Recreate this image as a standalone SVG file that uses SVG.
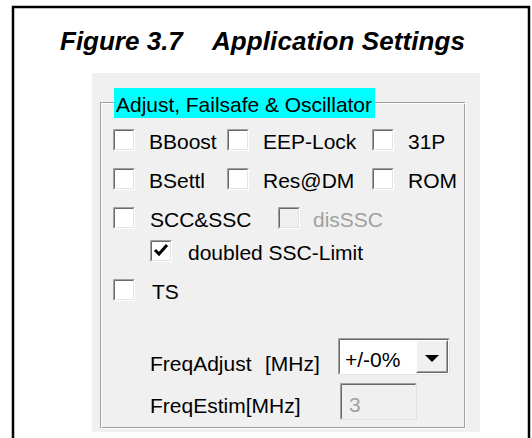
<svg xmlns="http://www.w3.org/2000/svg" width="532" height="438" viewBox="0 0 532 438">
<style>
.lbl{font-family:"Liberation Sans",Arial,sans-serif;font-size:21px;fill:#000}
.dis{fill:#a0a0a0}
.title{font-family:"Liberation Sans",Arial,sans-serif;font-size:26px;font-weight:bold;font-style:italic;fill:#000}
</style>
<defs>
<g id="cb">
<rect x="0" y="0" width="22" height="22" fill="#ffffff"/>
<path d="M0.5 21.5V0.5H21.5" fill="none" stroke="#a0a0a0"/>
<path d="M1.5 20.5V1.5H20.5" fill="none" stroke="#696969"/>
<path d="M1.5 21.5H21.5V1.5" fill="none" stroke="#ffffff"/>
<path d="M2.5 20.5H20.5V2.5" fill="none" stroke="#e3e3e3"/>
</g>
<g id="cbd">
<rect x="0" y="0" width="22" height="22" fill="#f0f0f0"/>
<path d="M0.5 21.5V0.5H21.5" fill="none" stroke="#a0a0a0"/>
<path d="M1.5 20.5V1.5H20.5" fill="none" stroke="#696969"/>
<path d="M1.5 21.5H21.5V1.5" fill="none" stroke="#ffffff"/>
<path d="M2.5 20.5H20.5V2.5" fill="none" stroke="#e3e3e3"/>
</g>
</defs>
<rect x="0" y="0" width="532" height="438" fill="#ffffff"/>
<path d="M13 438V7H529V438" fill="none" stroke="#000" stroke-width="2.5"/>
<text class="title" y="50"><tspan x="60">Figure 3.7</tspan><tspan x="212" textLength="253">Application Settings</tspan></text>
<rect x="92" y="73" width="388" height="359" fill="#f0f0f0"/>
<g id="groupbox">
<rect x="100.5" y="102.5" width="364" height="325" fill="none" stroke="#a0a0a0"/>
<rect x="101.5" y="103.5" width="364" height="325" fill="none" stroke="#ffffff" opacity="0.9"/>
<rect x="114" y="88" width="261" height="30" fill="#00ffff"/>
<text class="lbl" x="116" y="112" textLength="256">Adjust, Failsafe &amp; Oscillator</text>
</g>
<g id="bboost"><use href="#cb" x="113" y="129"/><text class="lbl" x="149" y="149">BBoost</text></g>
<g id="eeplock"><use href="#cb" x="227" y="129"/><text class="lbl" x="263" y="149">EEP-Lock</text></g>
<g id="p31"><use href="#cb" x="372" y="129"/><text class="lbl" x="408" y="149">31P</text></g>
<g id="bsettl"><use href="#cb" x="113" y="168"/><text class="lbl" x="149" y="188">BSettl</text></g>
<g id="resdm"><use href="#cb" x="227" y="168"/><text class="lbl" x="263" y="188">Res@DM</text></g>
<g id="rom"><use href="#cb" x="372" y="168"/><text class="lbl" x="408" y="188">ROM</text></g>
<g id="sccssc"><use href="#cb" x="113" y="207"/><text class="lbl" x="150" y="227">SCC&amp;SSC</text></g>
<g id="disssc"><use href="#cbd" x="278" y="207"/><text class="lbl dis" x="313" y="227">disSSC</text></g>
<g id="doubled"><use href="#cb" x="150" y="240"/><path d="M155 250l4 4 8-9" fill="none" stroke="#000" stroke-width="3"/><text class="lbl" x="188" y="260">doubled SSC-Limit</text></g>
<g id="ts"><use href="#cb" x="113" y="279"/><text class="lbl" x="152" y="299">TS</text></g>
<g id="freqadjust">
<text class="lbl" x="150" y="371">FreqAdjust</text>
<text class="lbl" x="265" y="371">[MHz]</text>
<rect x="338" y="338" width="112" height="37" fill="#ffffff"/>
<path d="M338.5 374.5V338.5H449.5" fill="none" stroke="#a0a0a0"/>
<path d="M339.5 373.5V339.5H448.5" fill="none" stroke="#696969"/>
<path d="M338.5 374.5H449.5V338.5" fill="none" stroke="#e3e3e3"/>
<text class="lbl" x="345" y="367">+/-0%</text>
<rect x="416" y="340" width="32" height="33" fill="#f0f0f0"/>
<path d="M416.5 372.5V340.5H447.5" fill="none" stroke="#ffffff"/>
<path d="M416.5 372.5H447.5V340.5" fill="none" stroke="#696969"/>
<path d="M417.5 371.5H446.5V341.5" fill="none" stroke="#a0a0a0"/>
<path d="M425 355h14l-7 7z" fill="#000"/>
</g>
<g id="freqestim">
<text class="lbl" x="150" y="413">FreqEstim[MHz]</text>
<rect x="340" y="383" width="77" height="37" fill="#f0f0f0"/>
<path d="M340.5 419.5V383.5H416.5" fill="none" stroke="#a0a0a0"/>
<path d="M341.5 418.5V384.5H415.5" fill="none" stroke="#696969"/>
<path d="M340.5 419.5H416.5V383.5" fill="none" stroke="#e3e3e3"/>
<text class="lbl dis" x="349" y="412">3</text>
</g>
</svg>
